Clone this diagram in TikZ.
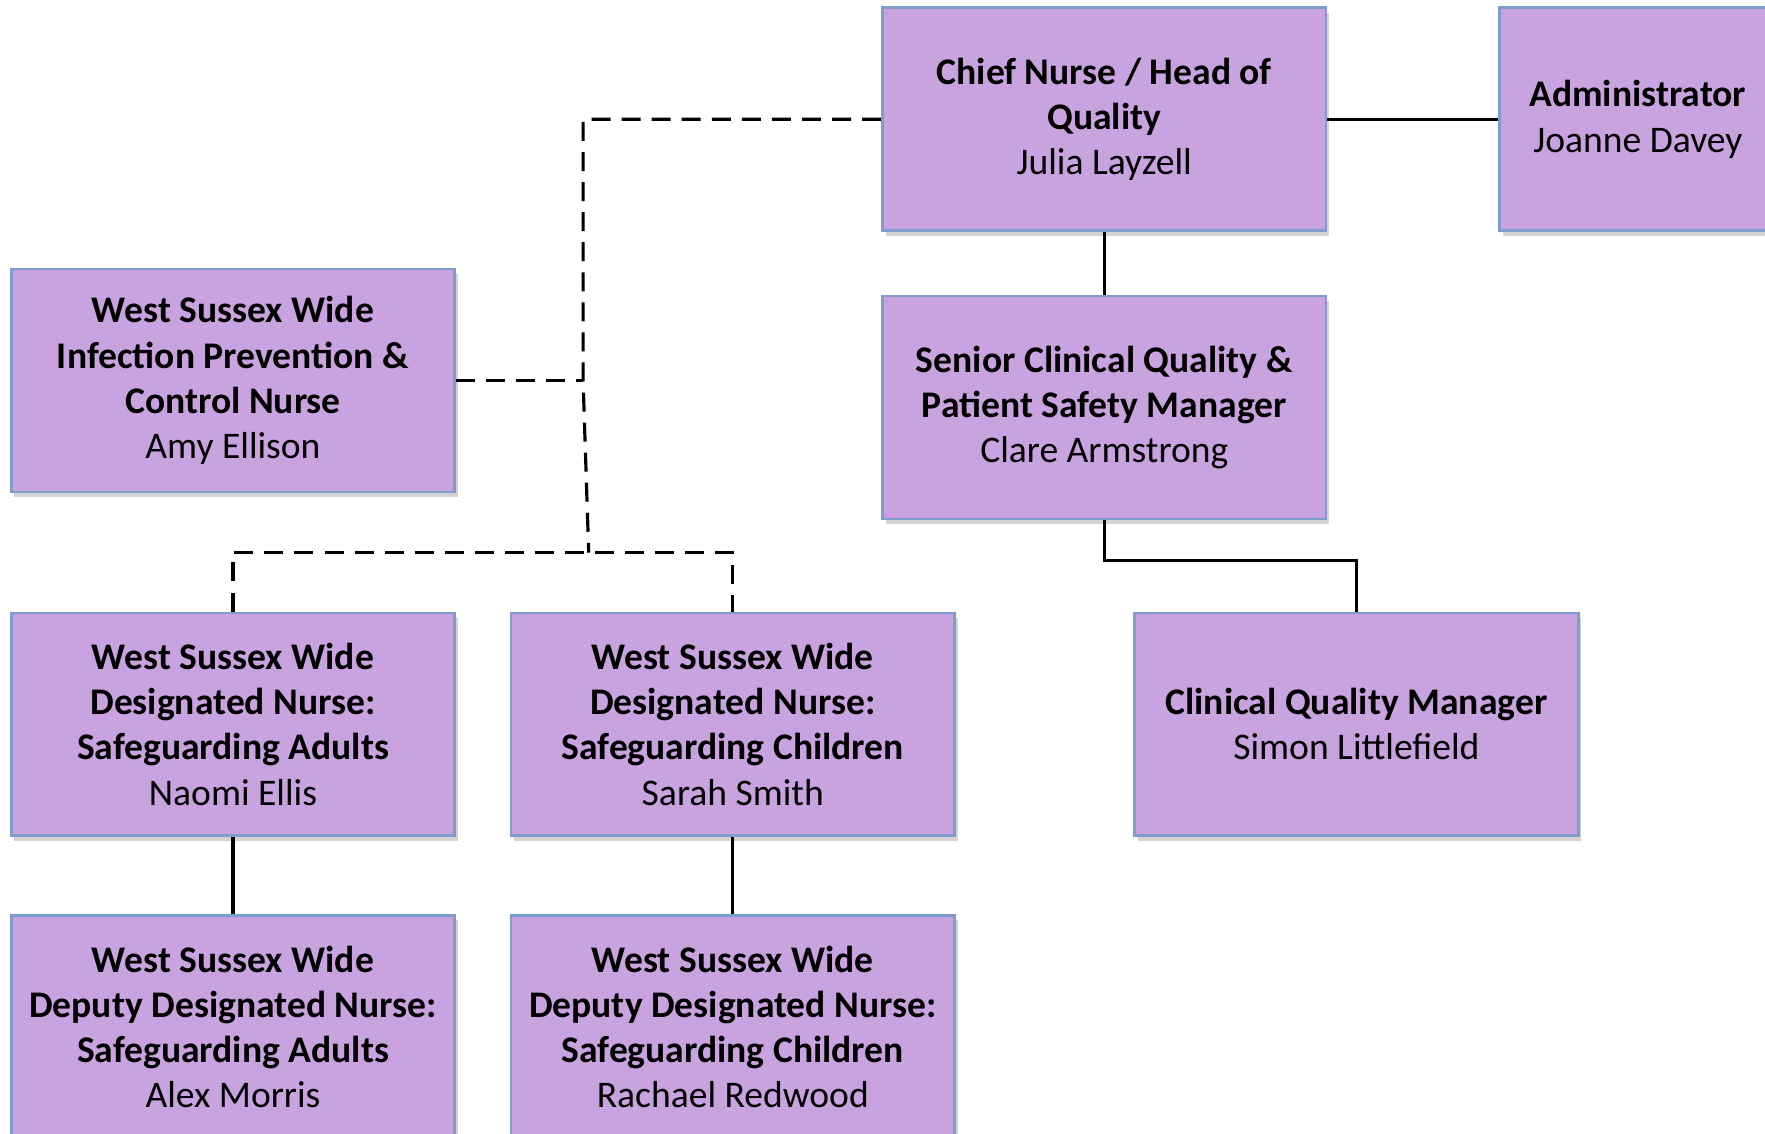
\documentclass[tikz,border=0pt]{standalone}
\usepackage{fontspec}
\setmainfont{Carlito}
\usepackage{xcolor}
\usepackage{tikz}
\usetikzlibrary{shadows, positioning}
\definecolor{boxfill}{HTML}{C9A3E0}
\definecolor{boxline}{HTML}{7F9DCC}

\begin{document}
\begin{tikzpicture}[
            box/.style={draw=boxline, line width=0.7pt, fill=boxfill, rectangle, minimum width=3.94cm, minimum height=1.98cm,
                align=center, inner sep=0pt, font=\fontsize{9.5}{11.4}\selectfont,
                drop shadow={shadow xshift=0.8pt, shadow yshift=-1.2pt, opacity=0.35}},
            solidline/.style={line width=0.8pt},
            dashline/.style={line width=0.8pt, dash pattern=on 4.8pt off 2.8pt}]
            \useasboundingbox (0,0) rectangle (15.68,-10.07);

            \node[box] (chief) at (9.81,-1.06) {\textbf{Chief Nurse / Head of}\\ \textbf{Quality}\\ Julia Layzell};
            \node[box, minimum width=2.46cm] (admin) at (14.55,-1.06) {\textbf{Administrator}\\ Joanne Davey};
            \node[box] (infection) at (2.07,-3.38) {\textbf{West Sussex Wide}\\ \textbf{Infection Prevention \&}\\ \textbf{Control Nurse}\\ Amy Ellison};
            \node[box] (senior) at (9.81,-3.62) {\textbf{Senior Clinical Quality \&}\\ \textbf{Patient Safety Manager}\\ Clare Armstrong};
            \node[box] (sgadults) at (2.07,-6.435) {\textbf{West Sussex Wide}\\ \textbf{Designated Nurse:}\\ \textbf{Safeguarding Adults}\\ Naomi Ellis};
            \node[box] (sgchildren) at (6.51,-6.435) {\textbf{West Sussex Wide}\\ \textbf{Designated Nurse:}\\ \textbf{Safeguarding Children}\\ Sarah Smith};
            \node[box] (cqm) at (12.05,-6.435) {\textbf{Clinical Quality Manager}\\ Simon Littlefield};
            \node[box] (depadults) at (2.07,-9.12) {\textbf{West Sussex Wide}\\ \textbf{Deputy Designated Nurse:}\\ \textbf{Safeguarding Adults}\\ Alex Morris};
            \node[box] (depchildren) at (6.51,-9.12) {\textbf{West Sussex Wide}\\ \textbf{Deputy Designated Nurse:}\\ \textbf{Safeguarding Children}\\ Rachael Redwood};

            % dotted reporting lines
            \coordinate (jtop) at (5.18,-1.06);
            \coordinate (jmid) at (5.18,-3.38);
            \coordinate (jlow) at (5.23,-4.91);
            \draw[dashline] (chief.west) -- (jtop) -- (jmid) -- (jlow);
            \draw[dashline] (infection.east) -- (jmid);
            \draw[dashline] (sgadults.north) |- (jlow) -| (sgchildren.north);

            % line management
            \draw[solidline] (chief.east) -- (admin.west);
            \draw[solidline] (chief.south) -- (senior.north);
            \draw[solidline] (senior.south) -- ++(0,-0.36) -| (cqm.north);
            \draw[solidline] (sgadults.south) -- (depadults.north);
            \draw[solidline] (sgchildren.south) -- (depchildren.north);
        \end{tikzpicture}
\end{document}
